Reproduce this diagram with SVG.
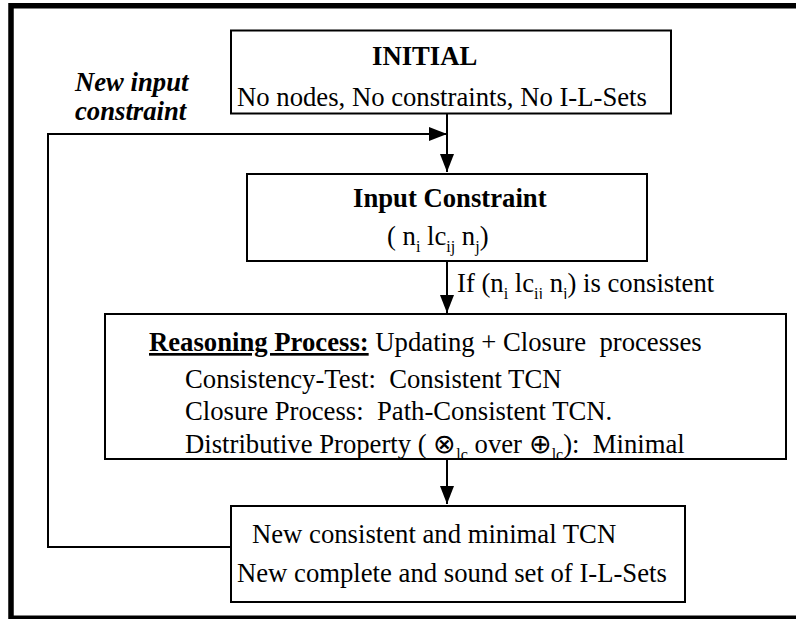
<svg xmlns="http://www.w3.org/2000/svg" width="796" height="619" viewBox="0 0 796 619">
<style>
text{font-family:"Liberation Serif","Times New Roman",serif;font-size:26.7px;fill:#000;white-space:pre}
.b{font-weight:bold}
.bi{font-weight:bold;font-style:italic}
.box{fill:#fff;stroke:#000;stroke-width:2}
.ln{fill:none;stroke:#000;stroke-width:2}
.sub{font-size:16px}
</style>
<defs>
<marker id="ah" markerUnits="userSpaceOnUse" markerWidth="18" markerHeight="14" refX="18" refY="7" orient="auto">
<path d="M0,0 L18,7 L0,14 z" fill="#000"/>
</marker>
<clipPath id="clipIf"><rect x="450" y="270" width="300" height="29"/></clipPath>
<clipPath id="clipR"><rect x="106" y="315" width="679" height="143"/></clipPath>
</defs>
<rect x="11" y="5.75" width="900" height="612.5" fill="#fff" stroke="#000" stroke-width="5.5"/>
<g id="connectors">
<line class="ln" x1="447" y1="114" x2="447" y2="172" marker-end="url(#ah)"/>
<polyline class="ln" points="231,547 48,547 48,134 447,134" marker-end="url(#ah)"/>
<line class="ln" x1="447" y1="261" x2="447" y2="313" marker-end="url(#ah)"/>
<line class="ln" x1="447" y1="459" x2="447" y2="504" marker-end="url(#ah)"/>
<text clip-path="url(#clipIf)" x="457" y="292">If (n<tspan class="sub" dy="7">i</tspan><tspan dy="-7"> lc</tspan><tspan class="sub" dy="7">ij</tspan><tspan dy="-7"> n</tspan><tspan class="sub" dy="7">j</tspan><tspan dy="-7">) is consistent</tspan></text>
<text class="bi" x="75" y="91">New input</text>
<text class="bi" x="75" y="120">constraint</text>
</g>
<g id="initial">
<rect class="box" x="231" y="30.5" width="440" height="83"/>
<text class="b" x="372" y="65">INITIAL</text>
<text x="237" y="106">No nodes, No constraints, No I-L-Sets</text>
</g>
<g id="input">
<rect class="box" x="247" y="174" width="400" height="87"/>
<text class="b" x="353" y="207">Input Constraint</text>
<text x="387" y="245">( n<tspan class="sub" dy="7">i</tspan><tspan dy="-7"> lc</tspan><tspan class="sub" dy="7">ij</tspan><tspan dy="-7"> n</tspan><tspan class="sub" dy="7">j</tspan><tspan dy="-7">)</tspan></text>
</g>
<g id="reasoning">
<rect class="box" x="105" y="314" width="681" height="145"/>
<text x="149" y="351"><tspan class="b" text-decoration="underline">Reasoning Process:</tspan> Updating + Closure  processes</text>
<text x="185" y="388">Consistency-Test:  Consistent TCN</text>
<text x="185" y="420">Closure Process:  Path-Consistent TCN.</text>
<text clip-path="url(#clipR)" x="185" y="453">Distributive Property ( ⊗<tspan class="sub" dy="7">lc</tspan><tspan dy="-7"> over ⊕</tspan><tspan class="sub" dy="7">lc</tspan><tspan dy="-7">):  Minimal</tspan></text>
</g>
<g id="result">
<rect class="box" x="231" y="506" width="454" height="96"/>
<text x="252" y="543">New consistent and minimal TCN</text>
<text x="237" y="582">New complete and sound set of I-L-Sets</text>
</g>
</svg>
